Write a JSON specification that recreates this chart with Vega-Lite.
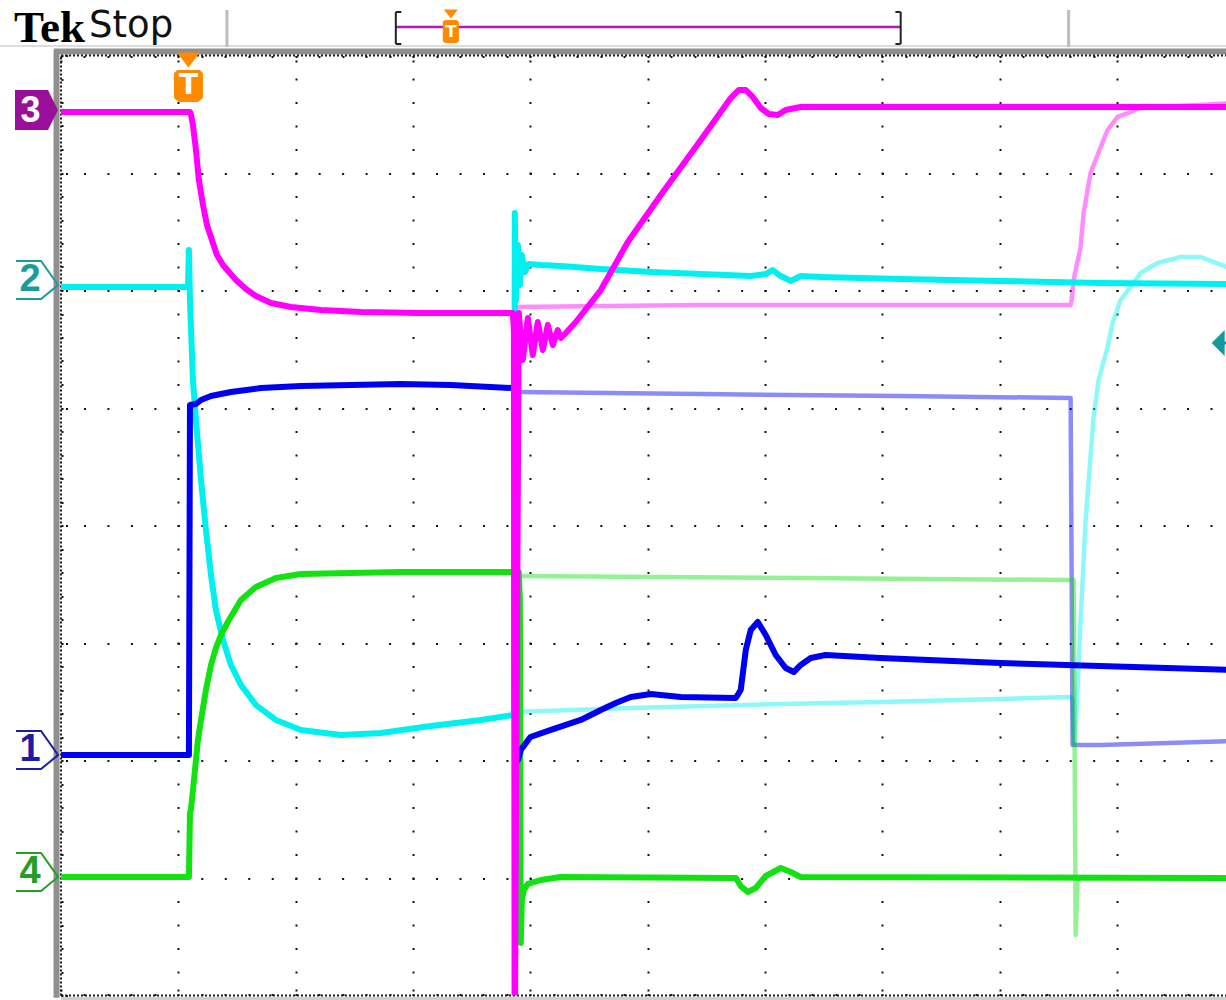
{
 "$schema": "https://vega.github.io/schema/vega-lite/v6.json",
 "width": 1165,
 "height": 940,
 "autosize": {"type": "none"},
 "padding": {"left": 61, "top": 55.5, "right": 0, "bottom": 4.5},
 "background": "#ffffff",
 "config": {"view": {"stroke": null}, "line": {"strokeCap": "butt", "strokeJoin": "round"}},
 "resolve": {"axis": {"x": "independent", "y": "independent"}},
 "datasets": {
  "frame": [
   {"part": "band", "x": -0.038, "y": -0.02, "x2": -0.038, "y2": 8.045},
   {"part": "band", "x": -0.06, "y": 8.034, "x2": 9.927, "y2": 8.034},
   {"part": "edge", "x": 0, "y": 0, "x2": 0, "y2": 8},
   {"part": "edge", "x": 0, "y": 8, "x2": 9.927, "y2": 8},
   {"part": "edge", "x": 0, "y": 0, "x2": 9.927, "y2": 0},
   {"part": "base", "x": 0, "y": -0.025, "x2": 9.927, "y2": -0.025}
  ],
  "header": [
   {"part": "divider", "x": 1.414, "y": 8.072, "x2": 1.414, "y2": 8.387},
   {"part": "divider", "x": 8.586, "y": 8.072, "x2": 8.586, "y2": 8.387},
   {"part": "baseline", "x": -0.52, "y": 8.081, "x2": 9.927, "y2": 8.081},
   {"part": "bracket", "x": 2.853, "y": 8.098, "x2": 2.853, "y2": 8.37},
   {"part": "bracket", "x": 2.853, "y": 8.37, "x2": 2.9, "y2": 8.37},
   {"part": "bracket", "x": 2.853, "y": 8.098, "x2": 2.9, "y2": 8.098},
   {"part": "bracket", "x": 7.155, "y": 8.098, "x2": 7.155, "y2": 8.37},
   {"part": "bracket", "x": 7.155, "y": 8.37, "x2": 7.11, "y2": 8.37},
   {"part": "bracket", "x": 7.155, "y": 8.098, "x2": 7.11, "y2": 8.098},
   {"part": "record", "x": 2.853, "y": 8.243, "x2": 7.155, "y2": 8.243}
  ],
  "annot": [
   {"item": "trigTri", "t": 1.086, "v": 7.962},
   {"item": "trigBody", "t": 1.086, "v": 7.74, "label": "T"},
   {"item": "recTri", "t": 3.322, "v": 8.353},
   {"item": "recBody", "t": 3.322, "v": 8.204, "label": "T"},
   {"item": "refArrow", "t": 9.86, "v": 5.553}
  ],
  "chmarks": [
   {"ch": "1", "t": -0.204, "v": 2.047},
   {"ch": "2", "t": -0.204, "v": 6.047},
   {"ch": "4", "t": -0.204, "v": 1.009},
   {"ch": "3", "t": -0.209, "v": 7.536}
  ],
  "title": [
   {"txt": "Tek", "t": -0.4, "v": 8.116},
   {"txt": "Stop", "t": 0.239, "v": 8.157}
  ],
  "traces": [
   {"ch": "3", "run": "ref", "t": 3.867, "v": 5.86},
   {"ch": "3", "run": "ref", "t": 5.452, "v": 5.877},
   {"ch": "3", "run": "ref", "t": 8.603, "v": 5.877},
   {"ch": "3", "run": "ref", "t": 8.612, "v": 5.919},
   {"ch": "3", "run": "ref", "t": 8.629, "v": 6.089},
   {"ch": "3", "run": "ref", "t": 8.688, "v": 6.37},
   {"ch": "3", "run": "ref", "t": 8.714, "v": 6.66},
   {"ch": "3", "run": "ref", "t": 8.773, "v": 7.0},
   {"ch": "3", "run": "ref", "t": 8.859, "v": 7.221},
   {"ch": "3", "run": "ref", "t": 8.918, "v": 7.366},
   {"ch": "3", "run": "ref", "t": 9.003, "v": 7.477},
   {"ch": "3", "run": "ref", "t": 9.114, "v": 7.519},
   {"ch": "3", "run": "ref", "t": 9.199, "v": 7.553},
   {"ch": "3", "run": "ref", "t": 10, "v": 7.596},

   {"ch": "2", "run": "ref", "t": 3.876, "v": 2.413},
   {"ch": "2", "run": "ref", "t": 4.855, "v": 2.447},
   {"ch": "2", "run": "ref", "t": 6.133, "v": 2.481},
   {"ch": "2", "run": "ref", "t": 6.985, "v": 2.498},
   {"ch": "2", "run": "ref", "t": 8.007, "v": 2.523},
   {"ch": "2", "run": "ref", "t": 8.603, "v": 2.54},
   {"ch": "2", "run": "ref", "t": 8.62, "v": 2.515},
   {"ch": "2", "run": "ref", "t": 8.633, "v": 2.132},
   {"ch": "2", "run": "ref", "t": 8.654, "v": 2.43},
   {"ch": "2", "run": "ref", "t": 8.688, "v": 3.196},
   {"ch": "2", "run": "ref", "t": 8.731, "v": 4.047},
   {"ch": "2", "run": "ref", "t": 8.799, "v": 4.923},
   {"ch": "2", "run": "ref", "t": 8.842, "v": 5.238},
   {"ch": "2", "run": "ref", "t": 8.918, "v": 5.519},
   {"ch": "2", "run": "ref", "t": 8.961, "v": 5.723},
   {"ch": "2", "run": "ref", "t": 9.029, "v": 5.919},
   {"ch": "2", "run": "ref", "t": 9.114, "v": 6.03},
   {"ch": "2", "run": "ref", "t": 9.199, "v": 6.149},
   {"ch": "2", "run": "ref", "t": 9.344, "v": 6.234},
   {"ch": "2", "run": "ref", "t": 9.54, "v": 6.285},
   {"ch": "2", "run": "ref", "t": 9.71, "v": 6.285},
   {"ch": "2", "run": "ref", "t": 9.932, "v": 6.2},
   {"ch": "2", "run": "ref", "t": 10, "v": 6.19},

   {"ch": "1", "run": "ref", "t": 3.876, "v": 5.136},
   {"ch": "1", "run": "ref", "t": 5.452, "v": 5.119},
   {"ch": "1", "run": "ref", "t": 7.155, "v": 5.102},
   {"ch": "1", "run": "ref", "t": 8.603, "v": 5.085},
   {"ch": "1", "run": "ref", "t": 8.62, "v": 2.132},
   {"ch": "1", "run": "ref", "t": 8.859, "v": 2.132},
   {"ch": "1", "run": "ref", "t": 10, "v": 2.165},

   {"ch": "4", "run": "ref", "t": 3.876, "v": 3.57},
   {"ch": "4", "run": "ref", "t": 6.303, "v": 3.553},
   {"ch": "4", "run": "ref", "t": 8.603, "v": 3.536},
   {"ch": "4", "run": "ref", "t": 8.629, "v": 3.536},
   {"ch": "4", "run": "ref", "t": 8.646, "v": 0.515},
   {"ch": "4", "run": "ref", "t": 8.663, "v": 0.983},
   {"ch": "4", "run": "ref", "t": 8.688, "v": 1.0},
   {"ch": "4", "run": "ref", "t": 8.859, "v": 1.0},

   {"ch": "2", "run": "live", "t": 0, "v": 6.03},
   {"ch": "2", "run": "live", "t": 1.082, "v": 6.03},
   {"ch": "2", "run": "live", "t": 1.09, "v": 6.345},
   {"ch": "2", "run": "live", "t": 1.099, "v": 5.919},
   {"ch": "2", "run": "live", "t": 1.124, "v": 5.238},
   {"ch": "2", "run": "live", "t": 1.15, "v": 4.898},
   {"ch": "2", "run": "live", "t": 1.193, "v": 4.387},
   {"ch": "2", "run": "live", "t": 1.235, "v": 3.962},
   {"ch": "2", "run": "live", "t": 1.278, "v": 3.579},
   {"ch": "2", "run": "live", "t": 1.32, "v": 3.281},
   {"ch": "2", "run": "live", "t": 1.38, "v": 3.026},
   {"ch": "2", "run": "live", "t": 1.448, "v": 2.813},
   {"ch": "2", "run": "live", "t": 1.533, "v": 2.643},
   {"ch": "2", "run": "live", "t": 1.661, "v": 2.472},
   {"ch": "2", "run": "live", "t": 1.831, "v": 2.345},
   {"ch": "2", "run": "live", "t": 2.044, "v": 2.26},
   {"ch": "2", "run": "live", "t": 2.385, "v": 2.217},
   {"ch": "2", "run": "live", "t": 2.726, "v": 2.234},
   {"ch": "2", "run": "live", "t": 3.152, "v": 2.294},
   {"ch": "2", "run": "live", "t": 3.578, "v": 2.345},
   {"ch": "2", "run": "live", "t": 3.85, "v": 2.387},
   {"ch": "2", "run": "live", "t": 3.859, "v": 2.387},
   {"ch": "2", "run": "live", "t": 3.867, "v": 6.66},
   {"ch": "2", "run": "live", "t": 3.876, "v": 5.919},
   {"ch": "2", "run": "live", "t": 3.893, "v": 6.387},
   {"ch": "2", "run": "live", "t": 3.91, "v": 6.047},
   {"ch": "2", "run": "live", "t": 3.927, "v": 6.302},
   {"ch": "2", "run": "live", "t": 3.952, "v": 6.157},
   {"ch": "2", "run": "live", "t": 3.986, "v": 6.226},
   {"ch": "2", "run": "live", "t": 4.089, "v": 6.217},
   {"ch": "2", "run": "live", "t": 4.259, "v": 6.209},
   {"ch": "2", "run": "live", "t": 4.6, "v": 6.183},
   {"ch": "2", "run": "live", "t": 5.026, "v": 6.157},
   {"ch": "2", "run": "live", "t": 5.452, "v": 6.14},
   {"ch": "2", "run": "live", "t": 5.877, "v": 6.123},
   {"ch": "2", "run": "live", "t": 6.005, "v": 6.14},
   {"ch": "2", "run": "live", "t": 6.065, "v": 6.174},
   {"ch": "2", "run": "live", "t": 6.133, "v": 6.123},
   {"ch": "2", "run": "live", "t": 6.218, "v": 6.081},
   {"ch": "2", "run": "live", "t": 6.303, "v": 6.123},
   {"ch": "2", "run": "live", "t": 6.474, "v": 6.115},
   {"ch": "2", "run": "live", "t": 7.155, "v": 6.098},
   {"ch": "2", "run": "live", "t": 8.007, "v": 6.081},
   {"ch": "2", "run": "live", "t": 8.859, "v": 6.064},
   {"ch": "2", "run": "live", "t": 10, "v": 6.055},

   {"ch": "4", "run": "live", "t": 0, "v": 1.009},
   {"ch": "4", "run": "live", "t": 1.09, "v": 1.009},
   {"ch": "4", "run": "live", "t": 1.099, "v": 1.553},
   {"ch": "4", "run": "live", "t": 1.107, "v": 1.579},
   {"ch": "4", "run": "live", "t": 1.133, "v": 1.834},
   {"ch": "4", "run": "live", "t": 1.167, "v": 2.174},
   {"ch": "4", "run": "live", "t": 1.193, "v": 2.345},
   {"ch": "4", "run": "live", "t": 1.235, "v": 2.6},
   {"ch": "4", "run": "live", "t": 1.278, "v": 2.813},
   {"ch": "4", "run": "live", "t": 1.32, "v": 2.957},
   {"ch": "4", "run": "live", "t": 1.363, "v": 3.068},
   {"ch": "4", "run": "live", "t": 1.431, "v": 3.196},
   {"ch": "4", "run": "live", "t": 1.533, "v": 3.366},
   {"ch": "4", "run": "live", "t": 1.661, "v": 3.477},
   {"ch": "4", "run": "live", "t": 1.831, "v": 3.553},
   {"ch": "4", "run": "live", "t": 2.044, "v": 3.587},
   {"ch": "4", "run": "live", "t": 2.47, "v": 3.596},
   {"ch": "4", "run": "live", "t": 2.896, "v": 3.604},
   {"ch": "4", "run": "live", "t": 3.85, "v": 3.604},
   {"ch": "4", "run": "live", "t": 3.901, "v": 3.604},
   {"ch": "4", "run": "live", "t": 3.91, "v": 3.366},
   {"ch": "4", "run": "live", "t": 3.918, "v": 0.447},
   {"ch": "4", "run": "live", "t": 3.927, "v": 0.813},
   {"ch": "4", "run": "live", "t": 3.944, "v": 0.898},
   {"ch": "4", "run": "live", "t": 3.978, "v": 0.949},
   {"ch": "4", "run": "live", "t": 4.089, "v": 0.983},
   {"ch": "4", "run": "live", "t": 4.259, "v": 1.009},
   {"ch": "4", "run": "live", "t": 5.75, "v": 1.0},
   {"ch": "4", "run": "live", "t": 5.792, "v": 0.932},
   {"ch": "4", "run": "live", "t": 5.852, "v": 0.881},
   {"ch": "4", "run": "live", "t": 5.92, "v": 0.915},
   {"ch": "4", "run": "live", "t": 6.005, "v": 1.017},
   {"ch": "4", "run": "live", "t": 6.133, "v": 1.085},
   {"ch": "4", "run": "live", "t": 6.218, "v": 1.051},
   {"ch": "4", "run": "live", "t": 6.303, "v": 1.009},
   {"ch": "4", "run": "live", "t": 10, "v": 1.0},

   {"ch": "1", "run": "live", "t": 0, "v": 2.047},
   {"ch": "1", "run": "live", "t": 1.09, "v": 2.047},
   {"ch": "1", "run": "live", "t": 1.099, "v": 5.026},
   {"ch": "1", "run": "live", "t": 1.15, "v": 5.034},
   {"ch": "1", "run": "live", "t": 1.193, "v": 5.068},
   {"ch": "1", "run": "live", "t": 1.278, "v": 5.102},
   {"ch": "1", "run": "live", "t": 1.448, "v": 5.136},
   {"ch": "1", "run": "live", "t": 1.704, "v": 5.17},
   {"ch": "1", "run": "live", "t": 2.044, "v": 5.187},
   {"ch": "1", "run": "live", "t": 2.47, "v": 5.196},
   {"ch": "1", "run": "live", "t": 2.896, "v": 5.204},
   {"ch": "1", "run": "live", "t": 3.322, "v": 5.196},
   {"ch": "1", "run": "live", "t": 3.85, "v": 5.17},
   {"ch": "1", "run": "live", "t": 3.867, "v": 5.17},
   {"ch": "1", "run": "live", "t": 3.876, "v": 2.004},
   {"ch": "1", "run": "live", "t": 3.893, "v": 2.004},
   {"ch": "1", "run": "live", "t": 3.918, "v": 2.089},
   {"ch": "1", "run": "live", "t": 4.0, "v": 2.2},
   {"ch": "1", "run": "live", "t": 4.174, "v": 2.26},
   {"ch": "1", "run": "live", "t": 4.429, "v": 2.345},
   {"ch": "1", "run": "live", "t": 4.6, "v": 2.43},
   {"ch": "1", "run": "live", "t": 4.727, "v": 2.489},
   {"ch": "1", "run": "live", "t": 4.855, "v": 2.54},
   {"ch": "1", "run": "live", "t": 5.026, "v": 2.566},
   {"ch": "1", "run": "live", "t": 5.281, "v": 2.54},
   {"ch": "1", "run": "live", "t": 5.75, "v": 2.532},
   {"ch": "1", "run": "live", "t": 5.792, "v": 2.6},
   {"ch": "1", "run": "live", "t": 5.835, "v": 2.94},
   {"ch": "1", "run": "live", "t": 5.877, "v": 3.111},
   {"ch": "1", "run": "live", "t": 5.937, "v": 3.179},
   {"ch": "1", "run": "live", "t": 6.005, "v": 3.068},
   {"ch": "1", "run": "live", "t": 6.09, "v": 2.898},
   {"ch": "1", "run": "live", "t": 6.175, "v": 2.787},
   {"ch": "1", "run": "live", "t": 6.244, "v": 2.753},
   {"ch": "1", "run": "live", "t": 6.303, "v": 2.813},
   {"ch": "1", "run": "live", "t": 6.388, "v": 2.872},
   {"ch": "1", "run": "live", "t": 6.516, "v": 2.898},
   {"ch": "1", "run": "live", "t": 6.985, "v": 2.872},
   {"ch": "1", "run": "live", "t": 8.007, "v": 2.83},
   {"ch": "1", "run": "live", "t": 10, "v": 2.77},

   {"ch": "3", "run": "live", "t": 0, "v": 7.519},
   {"ch": "3", "run": "live", "t": 1.099, "v": 7.519},
   {"ch": "3", "run": "live", "t": 1.107, "v": 7.502},
   {"ch": "3", "run": "live", "t": 1.124, "v": 7.409},
   {"ch": "3", "run": "live", "t": 1.15, "v": 7.196},
   {"ch": "3", "run": "live", "t": 1.175, "v": 6.94},
   {"ch": "3", "run": "live", "t": 1.21, "v": 6.728},
   {"ch": "3", "run": "live", "t": 1.244, "v": 6.557},
   {"ch": "3", "run": "live", "t": 1.286, "v": 6.43},
   {"ch": "3", "run": "live", "t": 1.329, "v": 6.302},
   {"ch": "3", "run": "live", "t": 1.38, "v": 6.217},
   {"ch": "3", "run": "live", "t": 1.431, "v": 6.157},
   {"ch": "3", "run": "live", "t": 1.491, "v": 6.089},
   {"ch": "3", "run": "live", "t": 1.576, "v": 6.013},
   {"ch": "3", "run": "live", "t": 1.661, "v": 5.953},
   {"ch": "3", "run": "live", "t": 1.789, "v": 5.894},
   {"ch": "3", "run": "live", "t": 1.959, "v": 5.86},
   {"ch": "3", "run": "live", "t": 2.215, "v": 5.834},
   {"ch": "3", "run": "live", "t": 2.555, "v": 5.817},
   {"ch": "3", "run": "live", "t": 3.066, "v": 5.809},
   {"ch": "3", "run": "live", "t": 3.85, "v": 5.809},
   {"ch": "3", "run": "live", "t": 3.859, "v": 5.664},
   {"ch": "3", "run": "live", "t": 3.865, "v": 0},
   {"ch": "3", "run": "live", "t": 3.869, "v": 0},
   {"ch": "3", "run": "live", "t": 3.901, "v": 5.809},
   {"ch": "3", "run": "live", "t": 3.935, "v": 5.409},
   {"ch": "3", "run": "live", "t": 3.978, "v": 5.766},
   {"ch": "3", "run": "live", "t": 4.02, "v": 5.451},
   {"ch": "3", "run": "live", "t": 4.063, "v": 5.732},
   {"ch": "3", "run": "live", "t": 4.106, "v": 5.494},
   {"ch": "3", "run": "live", "t": 4.148, "v": 5.706},
   {"ch": "3", "run": "live", "t": 4.191, "v": 5.536},
   {"ch": "3", "run": "live", "t": 4.233, "v": 5.664},
   {"ch": "3", "run": "live", "t": 4.259, "v": 5.596},
   {"ch": "3", "run": "live", "t": 4.302, "v": 5.638},
   {"ch": "3", "run": "live", "t": 4.387, "v": 5.732},
   {"ch": "3", "run": "live", "t": 4.6, "v": 6.004},
   {"ch": "3", "run": "live", "t": 4.83, "v": 6.413},
   {"ch": "3", "run": "live", "t": 5.111, "v": 6.813},
   {"ch": "3", "run": "live", "t": 5.452, "v": 7.281},
   {"ch": "3", "run": "live", "t": 5.707, "v": 7.638},
   {"ch": "3", "run": "live", "t": 5.775, "v": 7.706},
   {"ch": "3", "run": "live", "t": 5.835, "v": 7.706},
   {"ch": "3", "run": "live", "t": 5.894, "v": 7.647},
   {"ch": "3", "run": "live", "t": 5.963, "v": 7.553},
   {"ch": "3", "run": "live", "t": 6.031, "v": 7.502},
   {"ch": "3", "run": "live", "t": 6.107, "v": 7.494},
   {"ch": "3", "run": "live", "t": 6.175, "v": 7.536},
   {"ch": "3", "run": "live", "t": 6.303, "v": 7.562},
   {"ch": "3", "run": "live", "t": 8.007, "v": 7.562},
   {"ch": "3", "run": "live", "t": 10, "v": 7.562}
  ]
 },
 "layer": [
  {
   "data": {"name": "frame"},
   "transform": [{"filter": "datum.part === 'band'"}],
   "mark": {"type": "rule", "color": "#8f8f8f", "strokeWidth": 6},
   "encoding": {
    "x": {"field": "x", "type": "quantitative", "scale": {"domain": [0, 9.927], "nice": false, "zero": false},
     "axis": {"orient": "top", "title": null, "labels": false, "domain": false,
      "values": [0,0.2,0.4,0.6,0.8,1,1.2,1.4,1.6,1.8,2,2.2,2.4,2.6,2.8,3,3.2,3.4,3.6,3.8,4,4.2,4.4,4.6,4.8,5,5.2,5.4,5.6,5.8,6,6.2,6.4,6.6,6.8,7,7.2,7.4,7.6,7.8,8,8.2,8.4,8.6,8.8,9,9.2,9.4,9.6,9.8],
      "ticks": true, "tickColor": "#111111", "tickWidth": 2,
      "tickSize": {"condition": {"test": "datum.value % 1 === 0", "value": -7}, "value": -3},
      "tickDash": [2, 2.5],
      "grid": true, "gridColor": "#111111", "gridWidth": 2, "gridDash": [2, 21.5], "gridDashOffset": 1,
      "gridOpacity": {"condition": {"test": "datum.value % 1 === 0 && datum.value > 0", "value": 1}, "value": 0}}},
    "y": {"field": "y", "type": "quantitative", "scale": {"domain": [0, 8], "nice": false, "zero": false},
     "axis": {"orient": "left", "title": null, "labels": false, "domain": false,
      "values": [0,0.2,0.4,0.6,0.8,1,1.2,1.4,1.6,1.8,2,2.2,2.4,2.6,2.8,3,3.2,3.4,3.6,3.8,4,4.2,4.4,4.6,4.8,5,5.2,5.4,5.6,5.8,6,6.2,6.4,6.6,6.8,7,7.2,7.4,7.6,7.8,8],
      "ticks": true, "tickColor": "#111111", "tickWidth": 2,
      "tickSize": {"condition": {"test": "datum.value % 1 === 0", "value": -7}, "value": -3},
      "tickDash": [2, 2.5],
      "grid": true, "gridColor": "#111111", "gridWidth": 2, "gridDash": [2, 21.47], "gridDashOffset": 1,
      "gridOpacity": {"condition": {"test": "datum.value % 1 === 0 && datum.value > 0 && datum.value < 8", "value": 1}, "value": 0}}},
    "x2": {"field": "x2"},
    "y2": {"field": "y2"}
   }
  },
  {
   "data": {"name": "frame"},
   "transform": [{"filter": "datum.part === 'edge'"}],
   "mark": {"type": "rule", "color": "#1a1a1a", "strokeWidth": 2, "strokeDash": [2, 2]},
   "encoding": {
    "x": {"field": "x", "type": "quantitative", "scale": {"domain": [0, 9.927], "nice": false, "zero": false},
     "axis": {"orient": "bottom", "title": null, "labels": false, "domain": false, "grid": false,
      "values": [0,0.2,0.4,0.6,0.8,1,1.2,1.4,1.6,1.8,2,2.2,2.4,2.6,2.8,3,3.2,3.4,3.6,3.8,4,4.2,4.4,4.6,4.8,5,5.2,5.4,5.6,5.8,6,6.2,6.4,6.6,6.8,7,7.2,7.4,7.6,7.8,8,8.2,8.4,8.6,8.8,9,9.2,9.4,9.6,9.8],
      "ticks": true, "tickColor": "#111111", "tickWidth": 2,
      "tickSize": {"condition": {"test": "datum.value % 1 === 0", "value": -7}, "value": -3},
      "tickDash": [2, 2.5]}},
    "y": {"field": "y", "type": "quantitative", "scale": {"domain": [0, 8], "nice": false, "zero": false}, "axis": null},
    "x2": {"field": "x2"},
    "y2": {"field": "y2"}
   }
  },
  {
   "data": {"name": "frame"},
   "transform": [{"filter": "datum.part === 'base'"}],
   "mark": {"type": "rule", "color": "#cfcfcf", "strokeWidth": 3},
   "encoding": {
    "x": {"field": "x", "type": "quantitative", "scale": {"domain": [0, 9.927], "nice": false, "zero": false}, "axis": null},
    "y": {"field": "y", "type": "quantitative", "scale": {"domain": [0, 8], "nice": false, "zero": false}, "axis": null},
    "x2": {"field": "x2"},
    "y2": {"field": "y2"}
   }
  },
  {
   "data": {"name": "traces"},
   "transform": [{"filter": "datum.run === 'ref'"}],
   "mark": {"type": "line", "strokeWidth": 4.5, "opacity": 0.45, "clip": true},
   "encoding": {
    "x": {"field": "t", "type": "quantitative", "scale": {"domain": [0, 9.927], "nice": false, "zero": false}, "axis": null},
    "y": {"field": "v", "type": "quantitative", "scale": {"domain": [0, 8], "nice": false, "zero": false}, "axis": null},
    "color": {"field": "ch", "type": "nominal", "scale": {"domain": ["1", "2", "3", "4"], "range": ["#0000f0", "#00f0f0", "#ff00ff", "#12e212"]}, "legend": null}
   }
  },
  {
   "data": {"name": "traces"},
   "transform": [{"filter": "datum.run === 'live'"}],
   "mark": {"type": "line", "strokeWidth": 6, "clip": true},
   "encoding": {
    "x": {"field": "t", "type": "quantitative", "scale": {"domain": [0, 9.927], "nice": false, "zero": false}, "axis": null},
    "y": {"field": "v", "type": "quantitative", "scale": {"domain": [0, 8], "nice": false, "zero": false}, "axis": null},
    "color": {"field": "ch", "type": "nominal", "scale": {"domain": ["1", "2", "3", "4"], "range": ["#0000f0", "#00f0f0", "#ff00ff", "#12e212"]}, "legend": null}
   }
  },
  {
   "data": {"name": "header"},
   "transform": [{"filter": "datum.part === 'baseline'"}],
   "mark": {"type": "rule", "color": "#dcdcdc", "strokeWidth": 2},
   "encoding": {
    "x": {"field": "x", "type": "quantitative", "scale": {"domain": [0, 9.927], "nice": false, "zero": false}, "axis": null},
    "y": {"field": "y", "type": "quantitative", "scale": {"domain": [0, 8], "nice": false, "zero": false}, "axis": null},
    "x2": {"field": "x2"}, "y2": {"field": "y2"}
   }
  },
  {
   "data": {"name": "header"},
   "transform": [{"filter": "datum.part === 'divider'"}],
   "mark": {"type": "rule", "color": "#bdbdbd", "strokeWidth": 3},
   "encoding": {
    "x": {"field": "x", "type": "quantitative", "scale": {"domain": [0, 9.927], "nice": false, "zero": false}, "axis": null},
    "y": {"field": "y", "type": "quantitative", "scale": {"domain": [0, 8], "nice": false, "zero": false}, "axis": null},
    "x2": {"field": "x2"}, "y2": {"field": "y2"}
   }
  },
  {
   "data": {"name": "header"},
   "transform": [{"filter": "datum.part === 'record'"}],
   "mark": {"type": "rule", "color": "#b01cb0", "strokeWidth": 2.5},
   "encoding": {
    "x": {"field": "x", "type": "quantitative", "scale": {"domain": [0, 9.927], "nice": false, "zero": false}, "axis": null},
    "y": {"field": "y", "type": "quantitative", "scale": {"domain": [0, 8], "nice": false, "zero": false}, "axis": null},
    "x2": {"field": "x2"}, "y2": {"field": "y2"}
   }
  },
  {
   "data": {"name": "header"},
   "transform": [{"filter": "datum.part === 'bracket'"}],
   "mark": {"type": "rule", "color": "#222222", "strokeWidth": 2},
   "encoding": {
    "x": {"field": "x", "type": "quantitative", "scale": {"domain": [0, 9.927], "nice": false, "zero": false}, "axis": null},
    "y": {"field": "y", "type": "quantitative", "scale": {"domain": [0, 8], "nice": false, "zero": false}, "axis": null},
    "x2": {"field": "x2"}, "y2": {"field": "y2"}
   }
  },
  {
   "data": {"name": "title"},
   "transform": [{"filter": "datum.txt === 'Tek'"}],
   "mark": {"type": "text", "font": "Liberation Serif", "fontWeight": "bold", "fontSize": 45, "align": "left", "baseline": "alphabetic", "color": "#000000"},
   "encoding": {
    "x": {"field": "t", "type": "quantitative", "scale": {"domain": [0, 9.927], "nice": false, "zero": false}, "axis": null},
    "y": {"field": "v", "type": "quantitative", "scale": {"domain": [0, 8], "nice": false, "zero": false}, "axis": null},
    "text": {"field": "txt"}
   }
  },
  {
   "data": {"name": "title"},
   "transform": [{"filter": "datum.txt === 'Stop'"}],
   "mark": {"type": "text", "font": "DejaVu Sans", "fontSize": 37, "align": "left", "baseline": "alphabetic", "color": "#111111"},
   "encoding": {
    "x": {"field": "t", "type": "quantitative", "scale": {"domain": [0, 9.927], "nice": false, "zero": false}, "axis": null},
    "y": {"field": "v", "type": "quantitative", "scale": {"domain": [0, 8], "nice": false, "zero": false}, "axis": null},
    "text": {"field": "txt"}
   }
  },
  {
   "data": {"name": "annot"},
   "transform": [{"filter": "datum.item === 'trigTri'"}],
   "mark": {"type": "point", "shape": "M-1,-0.65L1,-0.65L0,0.65Z", "size": 529, "filled": true, "color": "#ff8a00", "opacity": 1},
   "encoding": {
    "x": {"field": "t", "type": "quantitative", "scale": {"domain": [0, 9.927], "nice": false, "zero": false}, "axis": null},
    "y": {"field": "v", "type": "quantitative", "scale": {"domain": [0, 8], "nice": false, "zero": false}, "axis": null}
   }
  },
  {
   "data": {"name": "annot"},
   "transform": [{"filter": "datum.item === 'trigBody'"}],
   "mark": {"type": "point", "shape": "M-0.906,-0.8L-0.7,-1L0.7,-1L0.906,-0.8L0.906,0.75L0.6,1L-0.6,1L-0.906,0.75Z", "size": 1024, "filled": true, "color": "#ff8a00", "opacity": 1},
   "encoding": {
    "x": {"field": "t", "type": "quantitative", "scale": {"domain": [0, 9.927], "nice": false, "zero": false}, "axis": null},
    "y": {"field": "v", "type": "quantitative", "scale": {"domain": [0, 8], "nice": false, "zero": false}, "axis": null}
   }
  },
  {
   "data": {"name": "annot"},
   "transform": [{"filter": "datum.item === 'trigBody'"}],
   "mark": {"type": "text", "font": "DejaVu Sans", "fontWeight": "bold", "fontSize": 28, "align": "center", "baseline": "middle", "color": "#ffffff"},
   "encoding": {
    "x": {"field": "t", "type": "quantitative", "scale": {"domain": [0, 9.927], "nice": false, "zero": false}, "axis": null},
    "y": {"field": "v", "type": "quantitative", "scale": {"domain": [0, 8], "nice": false, "zero": false}, "axis": null},
    "text": {"field": "label"}
   }
  },
  {
   "data": {"name": "annot"},
   "transform": [{"filter": "datum.item === 'recTri'"}],
   "mark": {"type": "point", "shape": "M-1,-0.65L1,-0.65L0,0.65Z", "size": 196, "filled": true, "color": "#ff8a00", "opacity": 1},
   "encoding": {
    "x": {"field": "t", "type": "quantitative", "scale": {"domain": [0, 9.927], "nice": false, "zero": false}, "axis": null},
    "y": {"field": "v", "type": "quantitative", "scale": {"domain": [0, 8], "nice": false, "zero": false}, "axis": null}
   }
  },
  {
   "data": {"name": "annot"},
   "transform": [{"filter": "datum.item === 'recBody'"}],
   "mark": {"type": "point", "shape": "M-0.7,-0.85L-0.5,-1L0.5,-1L0.7,-0.85L0.7,0.85L0.5,1L-0.5,1L-0.7,0.85Z", "size": 529, "filled": true, "color": "#ff8a00", "opacity": 1},
   "encoding": {
    "x": {"field": "t", "type": "quantitative", "scale": {"domain": [0, 9.927], "nice": false, "zero": false}, "axis": null},
    "y": {"field": "v", "type": "quantitative", "scale": {"domain": [0, 8], "nice": false, "zero": false}, "axis": null}
   }
  },
  {
   "data": {"name": "annot"},
   "transform": [{"filter": "datum.item === 'recBody'"}],
   "mark": {"type": "text", "font": "DejaVu Sans", "fontWeight": "bold", "fontSize": 16, "align": "center", "baseline": "middle", "color": "#ffffff"},
   "encoding": {
    "x": {"field": "t", "type": "quantitative", "scale": {"domain": [0, 9.927], "nice": false, "zero": false}, "axis": null},
    "y": {"field": "v", "type": "quantitative", "scale": {"domain": [0, 8], "nice": false, "zero": false}, "axis": null},
    "text": {"field": "label"}
   }
  },
  {
   "data": {"name": "annot"},
   "transform": [{"filter": "datum.item === 'refArrow'"}],
   "mark": {"type": "point", "shape": "M-0.5,0L0.5,-1L0.5,1Z M0.5,-0.12L1.5,-0.12L1.5,0.12L0.5,0.12Z", "size": 676, "filled": true, "color": "#159a9a", "opacity": 1},
   "encoding": {
    "x": {"field": "t", "type": "quantitative", "scale": {"domain": [0, 9.927], "nice": false, "zero": false}, "axis": null},
    "y": {"field": "v", "type": "quantitative", "scale": {"domain": [0, 8], "nice": false, "zero": false}, "axis": null}
   }
  },
  {
   "data": {"name": "chmarks"},
   "transform": [{"filter": "datum.ch === '3'"}],
   "mark": {"type": "point", "shape": "M-1,-0.93L0.535,-0.93L1,0L0.535,0.93L-1,0.93Z", "size": 1849, "filled": true, "color": "#9a0f9a", "opacity": 1},
   "encoding": {
    "x": {"field": "t", "type": "quantitative", "scale": {"domain": [0, 9.927], "nice": false, "zero": false}, "axis": null},
    "y": {"field": "v", "type": "quantitative", "scale": {"domain": [0, 8], "nice": false, "zero": false}, "axis": null}
   }
  },
  {
   "data": {"name": "chmarks"},
   "transform": [{"filter": "datum.ch === '3'"}],
   "mark": {"type": "text", "font": "Liberation Sans", "fontWeight": "bold", "fontSize": 36, "align": "center", "baseline": "middle", "dx": -6, "dy": 1, "color": "#ffffff"},
   "encoding": {
    "x": {"field": "t", "type": "quantitative", "scale": {"domain": [0, 9.927], "nice": false, "zero": false}, "axis": null},
    "y": {"field": "v", "type": "quantitative", "scale": {"domain": [0, 8], "nice": false, "zero": false}, "axis": null},
    "text": {"field": "ch"}
   }
  },
  {
   "data": {"name": "chmarks"},
   "transform": [{"filter": "datum.ch !== '3'"}],
   "mark": {"type": "point", "shape": "M-1,-1.14L0.19,-1.14L1,0L0.19,0.67L-1,0.67", "size": 1764, "filled": false, "strokeWidth": 2, "opacity": 1},
   "encoding": {
    "x": {"field": "t", "type": "quantitative", "scale": {"domain": [0, 9.927], "nice": false, "zero": false}, "axis": null},
    "y": {"field": "v", "type": "quantitative", "scale": {"domain": [0, 8], "nice": false, "zero": false}, "axis": null},
    "stroke": {"field": "ch", "type": "nominal", "scale": {"domain": ["1", "2", "4"], "range": ["#1c1ca6", "#1a9c9c", "#23a023"]}, "legend": null}
   }
  },
  {
   "data": {"name": "chmarks"},
   "transform": [{"filter": "datum.ch !== '3'"}],
   "mark": {"type": "text", "font": "Liberation Sans", "fontWeight": "bold", "fontSize": 38, "align": "center", "baseline": "middle", "dx": -7, "dy": -5},
   "encoding": {
    "x": {"field": "t", "type": "quantitative", "scale": {"domain": [0, 9.927], "nice": false, "zero": false}, "axis": null},
    "y": {"field": "v", "type": "quantitative", "scale": {"domain": [0, 8], "nice": false, "zero": false}, "axis": null},
    "text": {"field": "ch"},
    "fill": {"field": "ch", "type": "nominal", "scale": {"domain": ["1", "2", "4"], "range": ["#1c1ca6", "#1a9c9c", "#23a023"]}, "legend": null}
   }
  }
 ]
}
